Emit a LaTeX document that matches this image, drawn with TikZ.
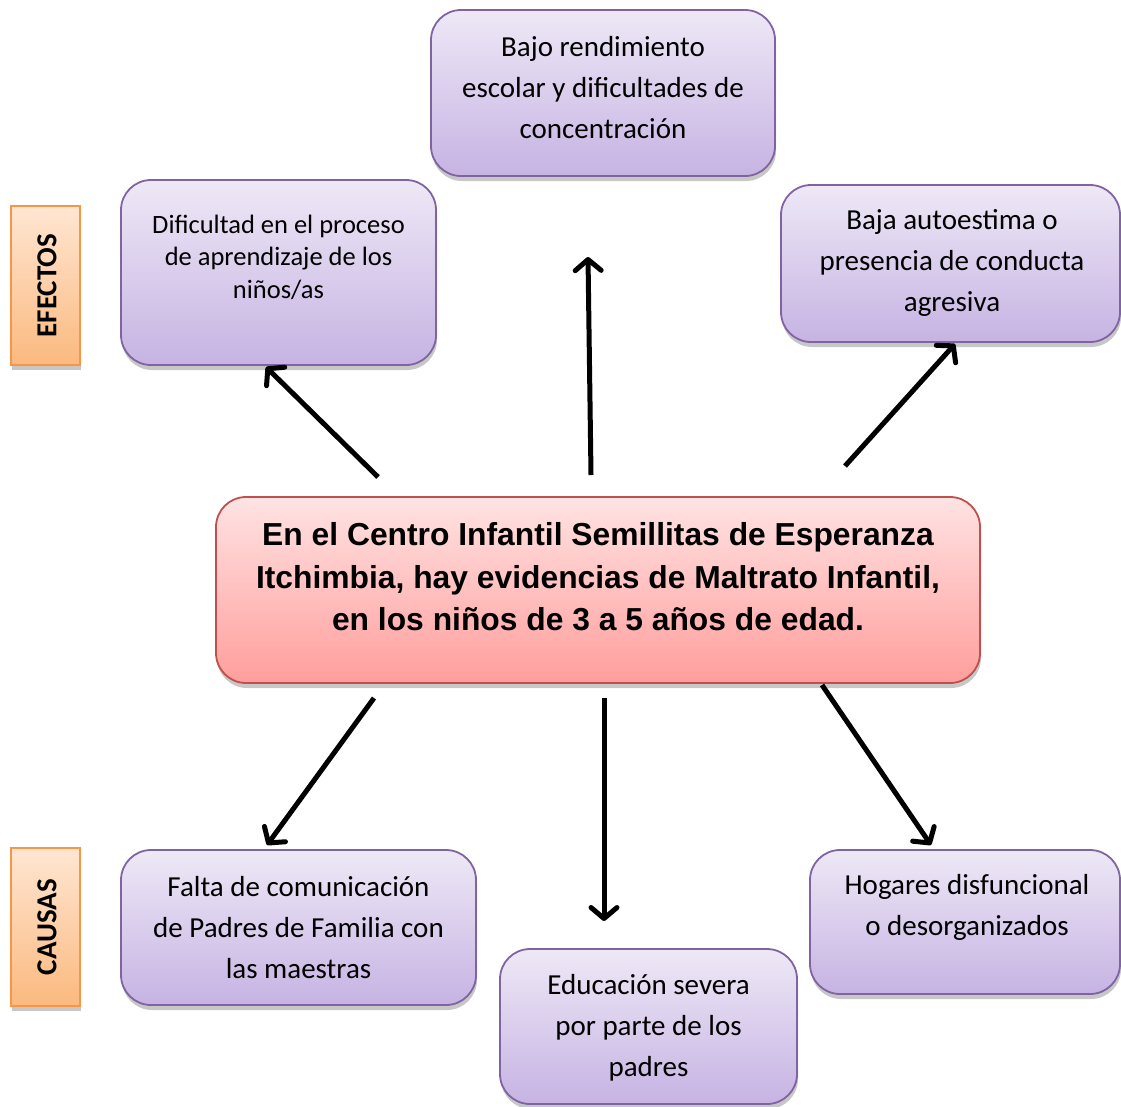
\documentclass[tikz,border=0pt]{standalone}
\usepackage{fontspec}
\setmainfont{Carlito}
\newfontfamily\arialfont{Liberation Sans}
\usetikzlibrary{arrows.meta,shadows}
\definecolor{pborder}{HTML}{8064A2}
\definecolor{ptop}{HTML}{EEE8F6}
\definecolor{pbot}{HTML}{C6B3E3}
\definecolor{rborder}{HTML}{C0504D}
\definecolor{rtop}{HTML}{FFE3E3}
\definecolor{rbot}{HTML}{FF9E9C}
\definecolor{oborder}{HTML}{F79646}
\definecolor{otop}{HTML}{FFE6D2}
\definecolor{obot}{HTML}{FBB97F}
\tikzset{
  shd/.style={drop shadow={shadow xshift=1pt, shadow yshift=-5pt, opacity=0.22, fill=black}},
  pbox/.style={draw=pborder, line width=1.8pt, rounded corners=30pt, top color=ptop, bottom color=pbot, shd, inner sep=0pt},
  rbox/.style={draw=rborder, line width=1.8pt, rounded corners=30pt, top color=rtop, bottom color=rbot, shd, inner sep=0pt},
  obox/.style={draw=oborder, line width=2pt, top color=otop, bottom color=obot, shd, inner sep=0pt},
  bigtxt/.style={align=center, font=\fontsize{29}{41}\selectfont, inner sep=0pt},
  smalltxt/.style={align=center, font=\fontsize{26.5}{32.5}\selectfont, inner sep=0pt},
  centertxt/.style={align=center, font=\arialfont\bfseries\fontsize{31.8}{42.5}\selectfont, inner sep=0pt},
  labtxt/.style={rotate=90, font=\bfseries\fontsize{29}{32}\selectfont, inner sep=0pt},
  arr/.style={line width=5pt, -{Straight Barb[length=11pt, width=26pt, round, line width=5pt]}}
}
\begin{document}
\begin{tikzpicture}[x=1pt, y=-1pt]
\useasboundingbox (0,0) rectangle (1121,1106);
% boxes
\node[pbox, minimum width=344pt, minimum height=166pt] (b1) at (603,93) {};
\node[pbox, minimum width=315pt, minimum height=185pt] (b2) at (278.5,272.5) {};
\node[pbox, minimum width=339pt, minimum height=157pt] (b3) at (950.5,263.5) {};
\node[rbox, minimum width=764pt, minimum height=186pt] (c) at (598,590) {};
\node[pbox, minimum width=355pt, minimum height=155pt] (d1) at (298.5,927.5) {};
\node[pbox, minimum width=297pt, minimum height=155pt] (d2) at (648.5,1026.5) {};
\node[pbox, minimum width=310pt, minimum height=144pt] (d3) at (965,922) {};
\node[obox, minimum width=69pt, minimum height=159pt] (ef) at (45.5,285.5) {};
\node[obox, minimum width=69pt, minimum height=158pt] (ca) at (45.5,927) {};
% texts
\node[bigtxt] (t1) at (603,88) {Bajo rendimiento\\escolar y dificultades de\\concentración};
\node[smalltxt] (t2) at (278.5,257) {Dificultad en el proceso\\de aprendizaje de los\\niños/as};
\node[bigtxt] (t3) at (952,263) {Baja autoestima o\\presencia de conducta\\agresiva};
\node[centertxt] (tc) at (598,577) {En el Centro Infantil Semillitas de Esperanza\\Itchimbia, hay evidencias de Maltrato Infantil,\\en los niños de 3 a 5 años de edad.};
\node[bigtxt] (u1) at (298.5,928) {Falta de comunicación\\de Padres de Familia con\\las maestras};
\node[bigtxt] (u2) at (648.5,1028) {Educación severa\\por parte de los\\padres};
\node[bigtxt] (u3) at (967,907) {Hogares disfuncional\\o desorganizados};
\node[labtxt] (te) at (47,285.5) {EFECTOS};
\node[labtxt] (tca) at (47,927) {CAUSAS};
% arrow anchors
\coordinate (s1) at (378,477);
\coordinate (e1) at (266,367);
\coordinate (s2) at (591,475);
\coordinate (e2) at (588,257);
\coordinate (s3) at (845,466);
\coordinate (e3) at (955,344);
\coordinate (s4) at (374,698);
\coordinate (e4) at (267,845);
\coordinate (s5) at (604,698);
\coordinate (e5) at (604,921);
\coordinate (s6) at (822,685);
\coordinate (e6) at (931,845);
\draw[arr] (s1) -- (e1);
\draw[arr] (s2) -- (e2);
\draw[arr] (s3) -- (e3);
\draw[arr] (s4) -- (e4);
\draw[arr] (s5) -- (e5);
\draw[arr] (s6) -- (e6);
\end{tikzpicture}
\end{document}
